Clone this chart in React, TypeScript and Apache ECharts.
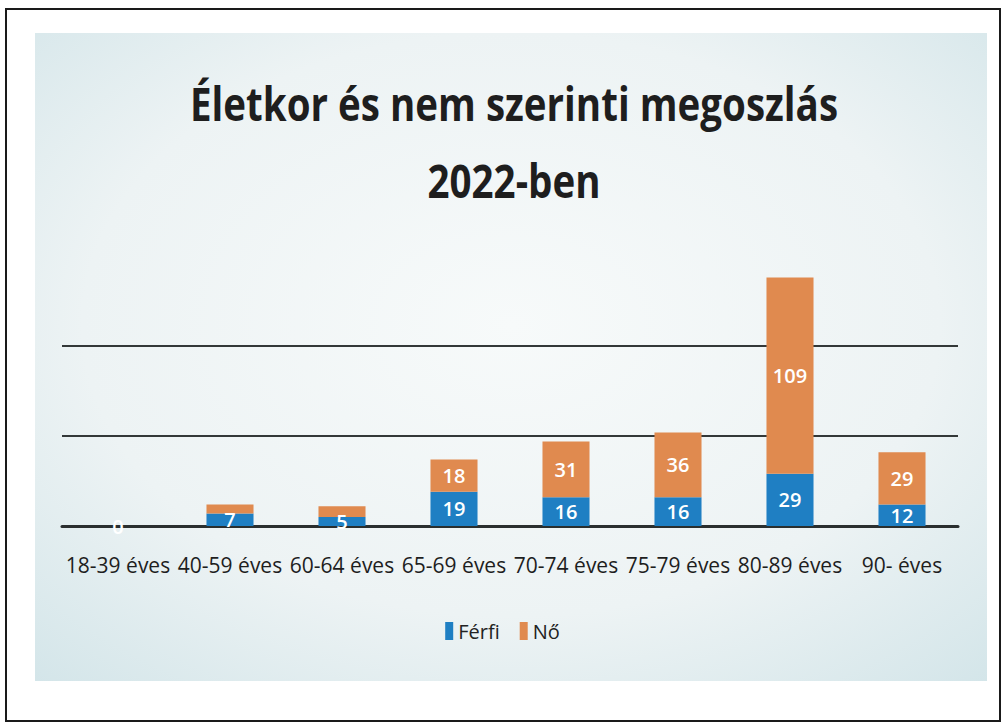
import React, { useEffect, useRef } from "react";
import * as echarts from "echarts";

const categories = [
  "18-39 éves",
  "40-59 éves",
  "60-64 éves",
  "65-69 éves",
  "70-74 éves",
  "75-79 éves",
  "80-89 éves",
  "90- éves",
];
const ferfi = [0, 7, 5, 19, 16, 16, 29, 12];
const no = [0, 5, 6, 18, 31, 36, 109, 29];
const seriesNames = ["Férfi", "Nő"];
const titleLines = ["Életkor és nem szerinti megoszlás", "2022-ben"];

const FONT = "'Open Sans', 'Noto Sans', sans-serif";

export default function App() {
  const ref = useRef<HTMLDivElement>(null);
  useEffect(() => {
    if (!ref.current) return;
    const chart = echarts.init(ref.current, undefined, { renderer: "svg" });
    const labelCfg = (minShow: number) => ({
      show: true,
      position: "inside" as const,
      color: "#ffffff",
      fontSize: 20,
      fontFamily: FONT,
      fontWeight: 600 as const,
      formatter: (p: any) => (p.value >= minShow || p.seriesName === "Férfi" ? String(p.value) : ""),
    });
    chart.setOption({
      animation: false,
      backgroundColor: "#ffffff",
      graphic: [
        {
          type: "rect",
          z: -10,
          shape: { x: 35, y: 33, width: 952, height: 648 },
          style: {
            fill: new echarts.graphic.RadialGradient(0.5, 0.45, 0.75, [
              { offset: 0, color: "#f7fafa" },
              { offset: 0.6, color: "#edf3f4" },
              { offset: 1, color: "#d3e5e9" },
            ]),
          },
        },
        {
          type: "rect",
          z: -9,
          shape: { x: 6, y: 9, width: 994, height: 712 },
          style: { fill: "none", stroke: "#1a1a1a", lineWidth: 2 },
        },
        {
          type: "text",
          x: 514,
          y: 103,
          scaleX: 0.82,
          style: {
            text: titleLines[0],
            font: `bold 47px ${FONT}`,
            fill: "#1e1e1e",
            textAlign: "center",
            textVerticalAlign: "middle",
          },
        },
        {
          type: "text",
          x: 514,
          y: 180,
          scaleX: 0.82,
          style: {
            text: titleLines[1],
            font: `bold 47px ${FONT}`,
            fill: "#1e1e1e",
            textAlign: "center",
            textVerticalAlign: "middle",
          },
        },
      ],
      grid: { left: 62, right: 47, top: 256, bottom: 200, containLabel: false },
      legend: {
        data: seriesNames,
        bottom: 80,
        left: "center",
        itemWidth: 8,
        itemHeight: 18,
        itemGap: 20,
        icon: "rect",
        textStyle: { fontSize: 20, fontFamily: FONT, color: "#222" },
      },
      xAxis: {
        type: "category",
        data: categories,
        axisLine: { show: true, lineStyle: { color: "#2a2f2f", width: 3 } },
        axisTick: { show: false },
        axisLabel: {
          fontSize: 21,
          fontFamily: FONT,
          color: "#1e1e1e",
          margin: 28,
          interval: 0,
        },
      },
      yAxis: {
        type: "value",
        min: 0,
        max: 150,
        interval: 50,
        axisLabel: { show: false },
        axisLine: { show: false },
        axisTick: { show: false },
        splitLine: {
          show: true,
          showMinLine: false,
          showMaxLine: false,
          lineStyle: { color: "#333838", width: 1.8 },
        },
      },
      series: [
        {
          name: seriesNames[0],
          type: "bar",
          stack: "total",
          data: ferfi,
          barWidth: "42%",
          itemStyle: { color: "#1f7fc3" },
          label: labelCfg(0),
        },
        {
          name: seriesNames[1],
          type: "bar",
          stack: "total",
          data: no,
          barWidth: "42%",
          itemStyle: { color: "#e08a4f" },
          label: labelCfg(10),
        },
      ],
    });
    return () => chart.dispose();
  }, []);
  return (
    <div
      ref={ref}
      style={{ position: "absolute", left: 0, top: 0, width: 1005, height: 726 }}
    />
  );
}
